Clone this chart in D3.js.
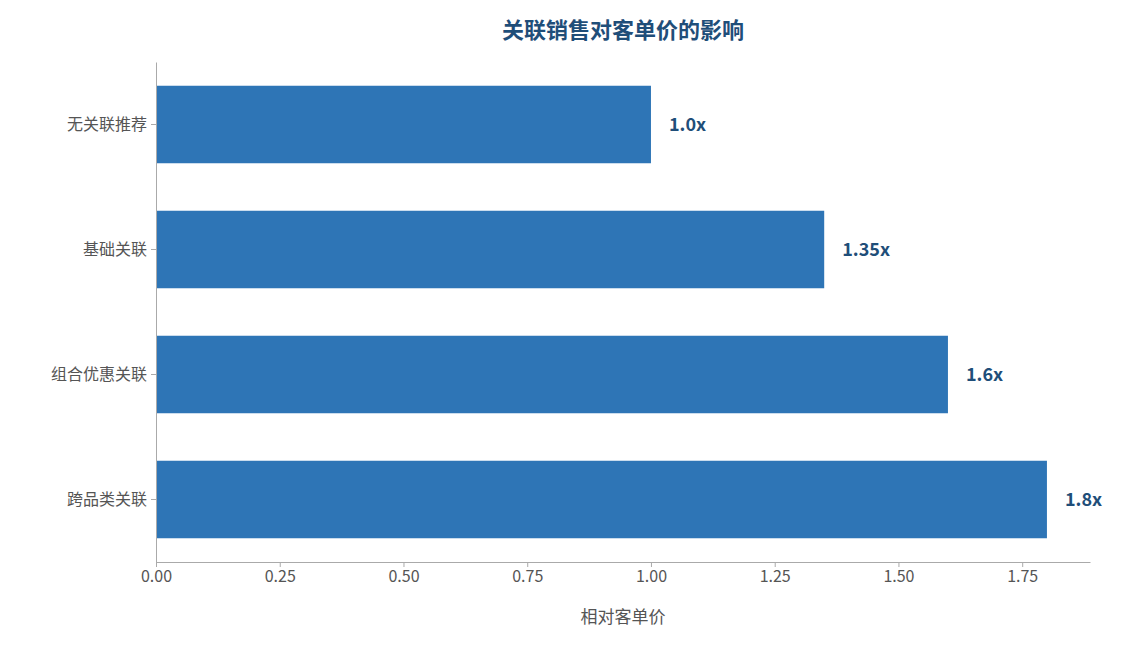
<!DOCTYPE html>
<html><head><meta charset="utf-8">
<script src="https://cdn.jsdelivr.net/npm/d3@7"></script>
<style>body{margin:0;background:#fff;font-family:"Noto Sans CJK SC","Noto Sans",sans-serif;}</style>
</head><body><svg width="1123" height="645"></svg>
<script>
const categories = ["无关联推荐","基础关联","组合优惠关联","跨品类关联"];
const values = [1.0, 1.35, 1.6, 1.8];
const valueLabels = ["1.0x","1.35x","1.6x","1.8x"];
const ticks = [0,0.25,0.5,0.75,1.0,1.25,1.5,1.75];

const svg = d3.select("svg");
const mLeft = 156, mRight = 1090, mTop = 62, mBottom = 562;
const x = d3.scaleLinear().domain([0, 1.887]).range([mLeft, mRight]);
const y = d3.scaleBand().domain(categories).range([mTop, mBottom]).paddingInner(0.38).paddingOuter(0.19);

svg.selectAll("rect.bar").data(values).enter().append("rect")
  .attr("x", x(0)).attr("y", (d,i)=>y(categories[i]))
  .attr("width", d=>x(d)-x(0)).attr("height", y.bandwidth())
  .attr("fill", "#2e75b6");

svg.selectAll("text.val").data(values).enter().append("text")
  .attr("x", d=>x(d)+18).attr("y", (d,i)=>y(categories[i])+y.bandwidth()/2)
  .attr("dy","0.35em").attr("font-size",18).attr("font-weight","bold")
  .attr("fill","#1f4e79").text((d,i)=>valueLabels[i]);

const xa = svg.append("g").attr("transform",`translate(0,${mBottom})`)
  .call(d3.axisBottom(x).tickValues(ticks).tickFormat(d3.format(".2f")).tickSize(5).tickSizeOuter(0));
const ya = svg.append("g").attr("transform",`translate(${mLeft},0)`)
  .call(d3.axisLeft(y).tickSize(5).tickSizeOuter(0));
[xa, ya].forEach(a=>{
  a.select(".domain").attr("stroke","#aaa");
  a.selectAll(".tick line").attr("stroke","#aaa");
  a.selectAll(".tick text").attr("fill","#555").attr("font-size",16)
   .attr("font-family",'"Noto Sans CJK SC","Noto Sans",sans-serif');
});
ya.selectAll(".tick text").attr("x",-9);
xa.selectAll(".tick text").attr("y",9);

svg.append("text").attr("x",(mLeft+mRight)/2).attr("y",623).attr("text-anchor","middle")
  .attr("font-size",17).attr("fill","#555").text("相对客单价");
svg.append("text").attr("x",623).attr("y",38).attr("text-anchor","middle")
  .attr("font-size",22).attr("font-weight","bold").attr("fill","#1f4e79").text("关联销售对客单价的影响");
</script></body></html>
